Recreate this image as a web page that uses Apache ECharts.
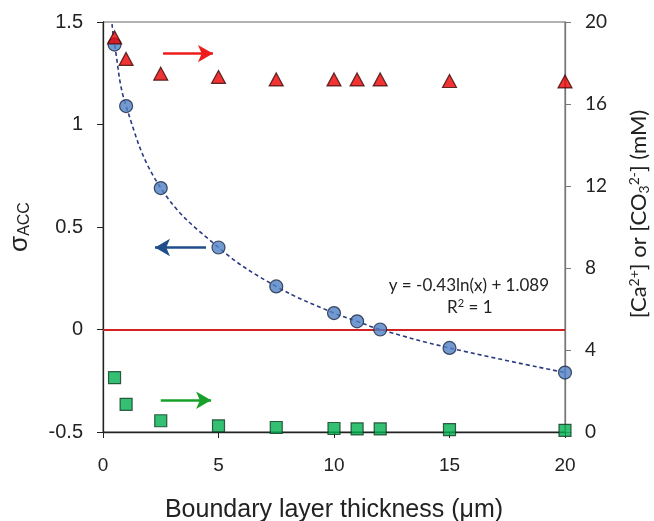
<!DOCTYPE html>
<html>
<head>
<meta charset="utf-8">
<script src="https://cdn.jsdelivr.net/npm/echarts@6/dist/echarts.min.js"></script>
<style>
  html, body { margin: 0; padding: 0; background: #ffffff; }
  #chart { width: 654px; height: 521px; }
</style>
</head>
<body>
<div id="chart"></div>
<script>
// Boundary layer thickness (µm)
const thickness = [0.5, 1, 2.5, 5, 7.5, 10, 11, 12, 15, 20];
// Saturation index σ_ACC (left axis)
const sigmaAcc = [1.39, 1.09, 0.69, 0.40, 0.21, 0.08, 0.04, 0.00, -0.09, -0.21];
// [Ca2+] (mM, right axis)
const calcium = [19.25, 18.2, 17.48, 17.32, 17.2, 17.2, 17.2, 17.2, 17.12, 17.1];
// [CO3 2-] (mM, right axis)
const carbonate = [2.65, 1.35, 0.55, 0.30, 0.22, 0.17, 0.15, 0.15, 0.12, 0.08];
// Start of the logarithmic trendline, at the top edge of the plot
const trendStart = [0.39, 1.49];
const trendLabel = 'y = -0.43ln(x) + 1.089';

const xTicks = { min: 0, max: 20, interval: 5 };
const leftTicks = { min: -0.5, max: 1.5, interval: 0.5 };
const rightTicks = { min: 0, max: 20, interval: 4 };

const pair = (xs, ys) => xs.map((x, i) => [x, ys[i]]);
const trendData = [trendStart].concat(pair(thickness, sigmaAcc));

const arrowLine = (x1, x2, y, color) => ({
  silent: true,
  animation: false,
  symbol: ['none', 'arrow'],
  symbolSize: [13, 15],
  label: { show: false },
  lineStyle: { color: color, width: 2.5, type: 'solid' },
  data: [[{ coord: [x1, y] }, { coord: [x2, y] }]]
});

const chart = echarts.init(document.getElementById('chart'), null, { renderer: 'canvas' });

chart.setOption({
  animation: false,
  backgroundColor: '#ffffff',
  grid: {
    left: 103, right: 89, top: 22, bottom: 89,
    outerBoundsMode: 'none',
    containLabel: false,
    show: true, borderColor: '#666', borderWidth: 1, backgroundColor: 'transparent'
  },
  xAxis: {
    type: 'value',
    min: xTicks.min, max: xTicks.max, interval: xTicks.interval,
    name: 'Boundary layer thickness (μm)',
    nameLocation: 'middle',
    nameGap: 66,
    nameTextStyle: { fontFamily: 'Liberation Sans', fontSize: 25, color: '#222' },
    axisLine: { show: true, onZero: false, lineStyle: { color: '#222', width: 1.3 } },
    axisTick: { show: true, inside: false, length: 6, lineStyle: { color: '#222' } },
    axisLabel: { margin: 24, fontFamily: 'Liberation Sans', fontSize: 19, color: '#222' },
    splitLine: { show: false }
  },
  yAxis: [
    {
      type: 'value',
      position: 'left',
      min: leftTicks.min, max: leftTicks.max, interval: leftTicks.interval,
      name: '{s|σ}{sub|ACC}',
      nameLocation: 'middle',
      nameGap: 70,
      nameRotate: 90,
      nameTextStyle: {
        rich: {
          s: { fontFamily: 'Liberation Sans', fontSize: 26, color: '#222', lineHeight: 28, verticalAlign: 'bottom' },
          sub: { fontFamily: 'Liberation Sans', fontSize: 16, color: '#222', lineHeight: 28, verticalAlign: 'bottom' }
        }
      },
      axisLine: { show: true, onZero: false, lineStyle: { color: '#222', width: 1.3 } },
      axisTick: { show: true, inside: false, length: 6, lineStyle: { color: '#222' } },
      axisLabel: { margin: 20, fontFamily: 'Liberation Sans', fontSize: 20, color: '#222' },
      splitLine: { show: false }
    },
    {
      type: 'value',
      position: 'right',
      min: rightTicks.min, max: rightTicks.max, interval: rightTicks.interval,
      name: '{t|[Ca}{sup|2+}{t|] or [CO}{sub|3}{sup|2-}{t|] (mM)}',
      nameLocation: 'middle',
      nameGap: 62,
      nameMoveOverlap: false,
      nameRotate: 90,
      nameTextStyle: {
        padding: [0, 0, 0, 26],
        rich: {
          t: { fontFamily: 'Lato', fontSize: 22, color: '#222', lineHeight: 24, verticalAlign: 'middle' },
          sup: { fontFamily: 'Lato', fontSize: 14, color: '#222', lineHeight: 24, verticalAlign: 'top' },
          sub: { fontFamily: 'Lato', fontSize: 14, color: '#222', lineHeight: 24, verticalAlign: 'bottom' }
        }
      },
      axisLine: { show: true, onZero: false, lineStyle: { color: '#777', width: 1.3 } },
      axisTick: { show: true, inside: false, length: 6, lineStyle: { color: '#777' } },
      axisLabel: { margin: 20, fontFamily: 'Lato', fontSize: 19, color: '#222' },
      splitLine: { show: false }
    }
  ],
  series: [
    {
      name: 'trend',
      type: 'line',
      yAxisIndex: 0,
      data: trendData,
      smooth: 0.4,
      showSymbol: false,
      symbol: 'none',
      lineStyle: { color: '#2a3a80', width: 1.6, type: [4, 3] },
      z: 2,
      silent: true
    },
    {
      name: 'sigma',
      type: 'scatter',
      yAxisIndex: 0,
      data: pair(thickness, sigmaAcc),
      symbol: 'circle',
      symbolSize: 13,
      clip: false,
      itemStyle: { color: '#4f81c4', borderColor: '#1c2740', borderWidth: 1.2 },
      z: 5,
      markLine: arrowLine(4.46, 2.25, 0.40, '#1f4e8c'),
      markPoint: {
        silent: true,
        symbol: 'circle',
        symbolSize: 0,
        data: [
          {
            coord: [15.84, 0.215],
            label: { show: true, formatter: trendLabel, position: 'inside',
              fontFamily: 'Lato', fontSize: 17, color: '#222' }
          },
          {
            coord: [15.88, 0.105],
            label: { show: true, formatter: '{t|R}{sup|2}{t| = 1}', position: 'inside',
              rich: {
                t: { fontFamily: 'Lato', fontSize: 17, color: '#222', lineHeight: 20, verticalAlign: 'middle' },
                sup: { fontFamily: 'Lato', fontSize: 11, color: '#222', lineHeight: 20, verticalAlign: 'top' }
              } }
          }
        ]
      }
    },
    {
      name: 'zero',
      type: 'line',
      yAxisIndex: 0,
      data: [],
      markLine: {
        silent: true,
        symbol: 'none',
        label: { show: false },
        lineStyle: { color: '#d42020', width: 2, type: 'solid' },
        data: [{ yAxis: 0 }]
      },
      z: 3
    },
    {
      name: 'calcium',
      type: 'scatter',
      yAxisIndex: 1,
      data: pair(thickness, calcium),
      symbol: 'triangle',
      symbolSize: [14, 13],
      clip: false,
      itemStyle: { color: '#ee0000', borderColor: '#3a0a0a', borderWidth: 1.2 },
      z: 5,
      markLine: arrowLine(2.6, 4.76, 18.46, '#ee1c1c')
    },
    {
      name: 'carbonate',
      type: 'scatter',
      yAxisIndex: 1,
      data: pair(thickness, carbonate),
      symbol: 'rect',
      symbolSize: 12,
      clip: false,
      itemStyle: { color: '#00b050', borderColor: '#103a20', borderWidth: 1.2 },
      z: 5,
      markLine: arrowLine(2.5, 4.68, 1.55, '#17a02a')
    }
  ]
});
</script>
</body>
</html>
